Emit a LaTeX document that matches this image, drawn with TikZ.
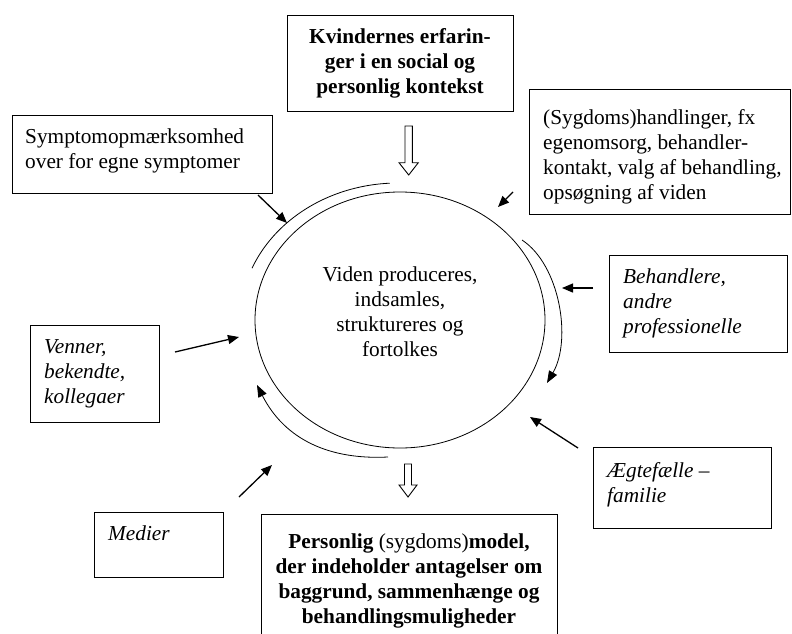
\documentclass[tikz,border=0pt]{standalone}
\usepackage{fontspec}
\setmainfont{Liberation Serif}
\usetikzlibrary{arrows.meta,shapes.geometric}
\tikzset{
  box/.style={draw, line width=0.9pt, inner sep=0pt, anchor=north west},
  txt/.style={inner sep=0pt, font=\fontsize{21.3}{25}\selectfont},
  arr/.style={line width=1.3pt, -{Triangle[length=11pt,width=9pt]}},
  arc/.style={line width=0.8pt},
  arcarr/.style={line width=0.8pt, -{Triangle[length=12pt,width=9pt]}},
  hollow/.style={draw, line width=0.9pt, fill=white},
}
\begin{document}
\begin{tikzpicture}[x=1pt,y=-1pt]
\clip (0,0) rectangle (792,634);
\fill[white] (0,0) rectangle (792,634);

% boxes
\node[box, minimum width=226pt, minimum height=96pt] (topbox) at (287,15) {};
\node[box, minimum width=260pt, minimum height=78pt] (sympbox) at (12,115) {};
\node[box, minimum width=261pt, minimum height=125pt] (handbox) at (529,89) {};
\node[box, minimum width=178pt, minimum height=97pt] (behbox) at (609,255) {};
\node[box, minimum width=129pt, minimum height=97pt] (venbox) at (30,325) {};
\node[box, minimum width=129pt, minimum height=65pt] (medbox) at (94,512) {};
\node[box, minimum width=178pt, minimum height=81pt] (aegbox) at (593,447) {};
\node[box, minimum width=296pt, minimum height=130pt] (perbox) at (261,514) {};

% texts
\node[txt, anchor=north, align=center, font=\fontsize{21.3}{25}\selectfont\bfseries] (toptxt) at (400,25.5)
  {\strut Kvindernes erfarin-\\ger i en social og\\personlig kontekst};
\node[txt, anchor=north west, align=left] (symptxt) at (25,125.5)
  {\strut Symptomopmærksomhed\\over for egne symptomer};
\node[txt, anchor=north west, align=left] (handtxt) at (543,106.5)
  {\strut (Sygdoms)handlinger, fx\\egenomsorg, behandler-\\kontakt, valg af behandling,\\opsøgning af viden};
\node[txt, anchor=north west, align=left, font=\fontsize{21.3}{25}\selectfont\itshape] (behtxt) at (623,265.5)
  {\strut Behandlere,\\andre\\professionelle};
\node[txt, anchor=north west, align=left, font=\fontsize{21.3}{25}\selectfont\itshape] (ventxt) at (44,335.5)
  {\strut Venner,\\bekendte,\\kollegaer};
\node[txt, anchor=north west, align=left, font=\fontsize{21.3}{25}\selectfont\itshape] (medtxt) at (108,522.5)
  {\strut Medier};
\node[txt, anchor=north west, align=left, font=\fontsize{21.3}{25}\selectfont\itshape] (aegtxt) at (607,459.5)
  {\strut Ægtefælle –\\familie};
\node[txt, anchor=north, align=center, font=\fontsize{21.3}{25}\selectfont\bfseries] (pertxt) at (409,530.5)
  {\strut Personlig {\mdseries (sygdoms)}model,\\der indeholder antagelser om\\baggrund, sammenhænge og\\behandlingsmuligheder};

% central ellipse
\node[draw, ellipse, line width=0.8pt, minimum width=290pt, minimum height=256pt, inner sep=0pt] (circ) at (400,320) {};
\node[txt, anchor=north, align=center] (circtxt) at (400,263.5)
  {\strut Viden produceres,\\indsamles,\\struktureres og\\fortolkes};

% hollow block arrows
\path[hollow] (405,126) -- (412.3,126) -- (412.3,162.7) -- (418.3,162.7) -- (408.7,175) -- (399,162.7) -- (405,162.7) -- cycle;
\path[hollow] (404.5,464) -- (411.5,464) -- (411.5,485) -- (417,485) -- (408,497) -- (399,485) -- (404.5,485) -- cycle;

% outer arcs
\draw[arc] plot[domain=93:157.5, samples=50] ({398+158*cos(\x)}, {321-138*sin(\x)});
\coordinate (rA) at (522,240);
\coordinate (rB) at (547,383);
\draw[arcarr] (rA) .. controls (560,265) and (572,340) .. (rB);
\coordinate (bA) at (388,457);
\coordinate (bB) at (257,385);
\draw[arcarr] (bA) .. controls (330,460) and (285,440) .. (bB);

% straight arrows
\coordinate (s1) at (258,195); \coordinate (e1) at (287,223);
\coordinate (s2) at (513,192); \coordinate (e2) at (498,207);
\coordinate (s3) at (593,288); \coordinate (e3) at (562,288);
\coordinate (s4) at (578,448); \coordinate (e4) at (530,417);
\coordinate (s5) at (239,497); \coordinate (e5) at (272,465);
\coordinate (s6) at (175,352); \coordinate (e6) at (239,337);
\draw[arr] (s1) -- (e1);
\draw[arr] (s2) -- (e2);
\draw[arr] (s3) -- (e3);
\draw[arr] (s4) -- (e4);
\draw[arr] (s5) -- (e5);
\draw[arr] (s6) -- (e6);
\end{tikzpicture}
\end{document}
